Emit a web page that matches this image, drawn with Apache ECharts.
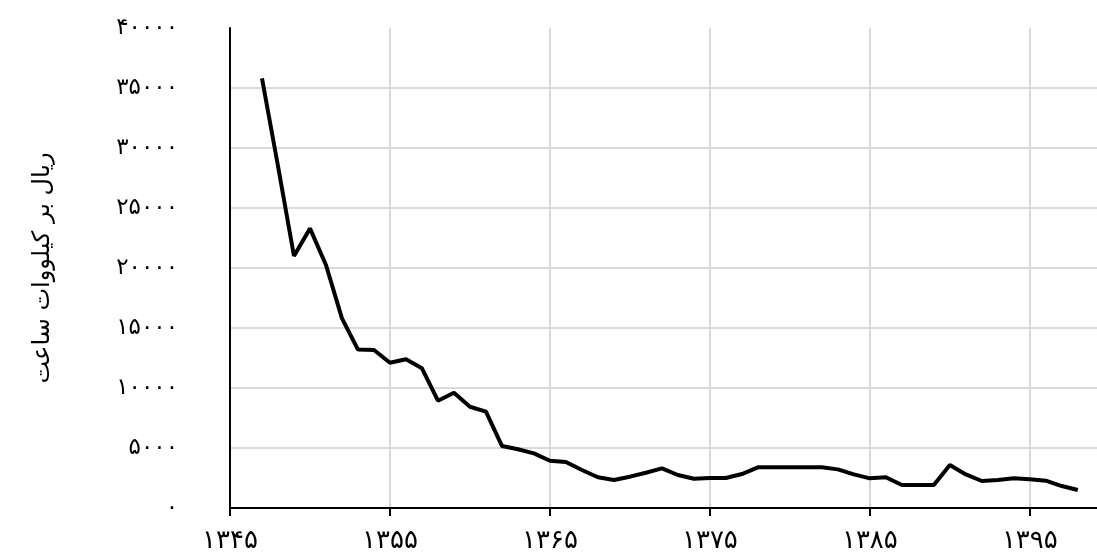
<!DOCTYPE html>
<html>
<head>
<meta charset="utf-8">
<script src="https://cdn.jsdelivr.net/npm/echarts@6/dist/echarts.min.js"></script>
<style>html,body{margin:0;padding:0;background:#fff}#c{width:1097px;height:557px}</style>
</head>
<body>
<div id="c"></div>
<script>
const years = [1347,1348,1349,1350,1351,1352,1353,1354,1355,1356,1357,1358,1359,1360,1361,1362,1363,1364,1365,1366,1367,1368,1369,1370,1371,1372,1373,1374,1375,1376,1377,1378,1379,1380,1381,1382,1383,1384,1385,1386,1387,1388,1389,1390,1391,1392,1393,1394,1395,1396,1397,1398];
const prices = [35800,28500,21000,23300,20250,15800,13200,13170,12100,12400,11640,8940,9600,8440,8030,5170,4900,4550,3940,3830,3170,2560,2330,2610,2940,3300,2750,2440,2500,2500,2830,3390,3390,3390,3390,3390,3220,2800,2470,2560,1920,1920,1920,3580,2800,2250,2330,2470,2390,2280,1830,1500];
const yAxisTitle = 'ریال بر کیلووات ساعت';
const fa = s => String(s).replace(/[0-9]/g, d => '۰۱۲۳۴۵۶۷۸۹'[d]);

const chart = echarts.init(document.getElementById('c'));
chart.setOption({
  animation: false,
  grid: {left: 230, right: 0, top: 28, bottom: 49, containLabel: false},
  xAxis: {
    type: 'value', min: 1345, max: 1399.2, interval: 10,
    axisLine: {show: true, lineStyle: {color: '#000', width: 2}},
    axisTick: {show: true, length: 8, lineStyle: {color: '#000', width: 2}},
    axisLabel: {
      color: '#000', fontSize: 26, fontFamily: 'DejaVu Sans', margin: 20,
      showMaxLabel: false,
      formatter: v => (Math.abs(v - Math.round(v)) < 1e-6 && (Math.round(v) - 1345) % 10 === 0) ? fa(Math.round(v)) : ''
    },
    splitLine: {show: true, showMaxLine: false, lineStyle: {color: '#d9d9d9', width: 2}}
  },
  yAxis: {
    type: 'value', min: 0, max: 40000, interval: 5000,
    name: yAxisTitle, nameLocation: 'middle', nameGap: 175, nameRotate: 90,
    nameTextStyle: {color: '#000', fontSize: 24, fontFamily: 'DejaVu Sans'},
    axisLine: {show: true, lineStyle: {color: '#000', width: 2}},
    axisTick: {show: false},
    axisLabel: {color: '#000', fontSize: 23, fontFamily: 'DejaVu Sans', margin: 52, formatter: v => fa(v)},
    splitLine: {show: true, showMaxLine: false, lineStyle: {color: '#d9d9d9', width: 2}}
  },
  series: [{
    type: 'line',
    data: years.map((y, i) => [y, prices[i]]),
    showSymbol: false,
    lineStyle: {color: '#000', width: 4},
    itemStyle: {color: '#000'}
  }]
});
</script>
</body>
</html>
